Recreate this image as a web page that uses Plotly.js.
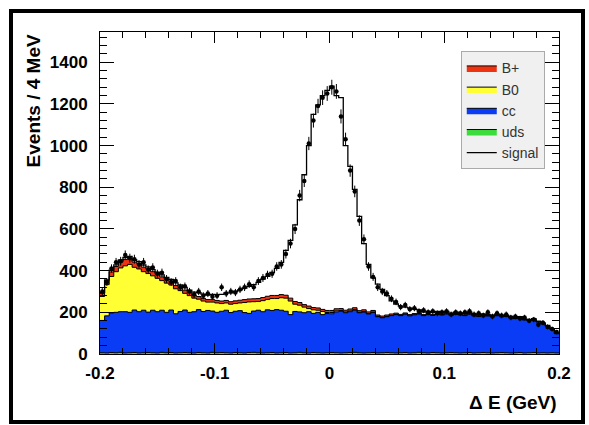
<!DOCTYPE html>
<html>
<head>
<meta charset="utf-8">
<script src="https://cdn.plot.ly/plotly-3.0.1.min.js"></script>
<style>
  html, body { margin: 0; padding: 0; background: #ffffff; }
  #wrap { position: relative; width: 589px; height: 425px; }
  #chart { position: absolute; left: 0; top: 0; width: 589px; height: 425px; }
  #frame { position: absolute; left: 9px; top: 9px; width: 576px; height: 415px;
           border: 4px solid #000; box-sizing: border-box; pointer-events: none; }
</style>
</head>
<body>
<div id="wrap"><div id="chart"></div><div id="frame"></div></div>
<script>
// Histogram binning: 100 bins of 4 MeV from -0.2 to 0.2 GeV
const binLow = -0.2;
const binWidth = 0.004;

// Component counts per bin
const uds = [6,5,7,6,8,5,6,7,5,6, 7,6,5,8,6,7,5,6,7,6, 5,7,6,5,8,6,7,6,5,7,
             6,5,7,8,6,5,6,7,5,6, 7,5,6,8,6,5,7,6,5,6, 7,6,5,6,7,8,6,5,6,7,
             5,6,7,6,5,6,7,5,6,8, 6,5,7,6,5,6,7,6,5,6, 7,5,6,7,6,5,6,7,6,5,
             6,7,5,6,7,5,6,5,6,5];
const cc = [155,178,190,194,195,198,194,204,198,204, 194,204,198,202,194,204,188,198,204,194,
            198,206,198,204,198,194,198,204,194,198, 202,194,188,198,204,198,206,202,208,204,
            198,184,198,194,192,198,188,194,184,188, 186,196,200,192,196,202,192,196,186,192,
            174,168,172,178,184,178,184,178,182,184, 178,184,178,184,182,186,178,184,182,178,
            184,178,174,178,176,174,178,172,174,168, 164,166,158,154,158,148,138,128,112,92];
const b0 = [115,150,175,195,210,220,230,205,205,185, 185,165,160,142,140,120,120,100,80,80,
            65,50,50,40,43,45,37,35,40,37, 37,48,55,45,42,53,50,57,53,60,
            63,65,35,32,27,15,17,10,15,5, 6,5,4,3,4,3,2,3,2,2,
            1,1,1,1,1,0,0,0,0,0, 0,0,0,0,0,0,0,0,0,0,
            0,0,0,0,0,0,0,0,0,0, 0,0,0,0,0,0,0,0,0,0];
const bplus = [15,18,22,25,28,30,28,25,25,22, 22,20,20,18,18,17,16,15,15,14,
               14,13,13,12,12,12,12,12,12,13, 13,14,14,14,14,15,15,15,15,15,
               14,14,13,13,12,12,11,11,10,10, 10,10,9,9,9,9,8,8,8,8,
               7,7,7,7,6,6,6,6,6,5, 5,5,5,5,5,4,4,4,4,4,
               4,4,4,3,3,3,3,3,3,3, 3,3,2,2,2,2,2,2,2,2];
const signal = [5,5,8,8,10,10,10,10,10,10, 10,10,10,10,10,10,12,12,12,12,
                15,18,20,22,25,28,32,36,42,46, 50,55,60,68,78,88,95,110,130,155,
                215,277,368,493,623,770,927,974,1026,1056, 1076,1023,1012,790,684,568,452,318,228,156,
                148,128,93,63,44,40,28,31,21,15, 12,10,10,9,8,8,7,7,6,6,
                6,5,5,5,5,4,4,4,4,4, 3,3,3,3,3,3,3,2,2,2];
// Data points (events per bin)
const data = [300,345,410,440,445,475,460,455,430,440, 405,415,385,390,360,345,350,320,325,300,
              285,300,280,290,275,280,320,290,300,295, 310,320,335,320,350,365,380,385,420,430,
              480,530,600,760,830,1010,1120,1190,1230,1250, 1280,1260,1140,1030,880,780,640,550,420,370,
              320,300,290,265,250,225,235,215,220,205, 210,200,205,195,200,205,190,200,195,200,
              205,190,195,185,200,180,195,185,190,175, 180,170,175,160,165,140,150,130,120,105];

const names = ['B+', 'B0', 'cc', 'uds', 'signal'];
const colors = {uds: '#3ddc3d', cc: '#0a3cf5', b0: '#ffff33', bplus: '#ee3311'};
const xTickVals = [-0.2, -0.1, 0, 0.1, 0.2];
const xTickText = ['-0.2', '-0.1', '0', '0.1', '0.2'];
const yTickVals = [0, 200, 400, 600, 800, 1000, 1200, 1400];

// Build step representations
const n = uds.length;
const edges = [];
for (let i = 0; i <= n; i++) edges.push(+(binLow + i * binWidth).toFixed(4));
const centers = [];
for (let i = 0; i < n; i++) centers.push(binLow + (i + 0.5) * binWidth);
function stepY(arr) { return arr.concat([arr[arr.length - 1]]); }
const c1 = uds.slice();
const c2 = c1.map((v, i) => v + cc[i]);
const c3 = c2.map((v, i) => v + b0[i]);
const c4 = c3.map((v, i) => v + bplus[i]);
const c5 = c4.map((v, i) => v + signal[i]);

function areaTrace(name, y, color) {
  return {type: 'scatter', mode: 'lines', name: name, x: edges, y: stepY(y),
          line: {shape: 'hv', color: '#000', width: 1}, fill: 'tozeroy', fillcolor: color,
          hoverinfo: 'skip'};
}
const traces = [
  areaTrace(names[0], c4, colors.bplus),
  areaTrace(names[1], c3, colors.b0),
  areaTrace(names[2], c2, colors.cc),
  areaTrace(names[3], c1, colors.uds),
  {type: 'scatter', mode: 'lines', name: names[4], x: edges, y: stepY(c5),
   line: {shape: 'hv', color: '#000', width: 1.3}},
  {type: 'scatter', mode: 'markers', name: 'data', showlegend: false, x: centers, y: data,
   marker: {color: '#000', size: 4.5},
   error_y: {type: 'data', array: data.map(v => Math.sqrt(v)), color: '#000', thickness: 1, width: 0}}
];

const font = {family: '"Liberation Sans", Arial, sans-serif', color: '#000'};
const layout = {
  width: 589, height: 425,
  margin: {l: 100, r: 30, t: 32, b: 71},
  paper_bgcolor: '#fff', plot_bgcolor: '#fff',
  showlegend: true,
  legend: {x: 0.786, y: 0.94, xanchor: 'left', yanchor: 'top',
           bgcolor: '#f0f0f0', bordercolor: '#aaaaaa', borderwidth: 1,
           font: {family: font.family, size: 14, color: '#333'},
           itemwidth: 30, tracegroupgap: 0},
  xaxis: {range: [-0.2, 0.2], tickmode: 'array', tickvals: xTickVals, ticktext: xTickText,
          ticks: 'inside', ticklen: 11, tickcolor: '#000', mirror: 'ticks',
          showline: true, linecolor: '#000', linewidth: 1, showgrid: false, zeroline: false,
          ticklabelstandoff: 4,
          minor: {dtick: 0.02, ticks: 'inside', ticklen: 6, tickcolor: '#000', showgrid: false},
          tickfont: {family: font.family, size: 17, weight: 700, color: '#000'}},
  yaxis: {range: [0, 1545], tickmode: 'array', tickvals: yTickVals,
          ticks: 'inside', ticklen: 14, tickcolor: '#000', mirror: 'ticks',
          showline: true, linecolor: '#000', linewidth: 1, showgrid: false, zeroline: false,
          ticklabelstandoff: 8,
          minor: {dtick: 40, ticks: 'inside', ticklen: 7, tickcolor: '#000', showgrid: false},
          tickfont: {family: font.family, size: 17, weight: 700, color: '#000'}},
  annotations: [
    {text: 'Events / 4 MeV', xref: 'paper', yref: 'paper', x: -0.144, y: 1.0,
     xanchor: 'center', yanchor: 'top', textangle: -90, showarrow: false,
     font: {family: font.family, size: 19, weight: 700, color: '#000'}},
    {text: 'Δ E (GeV)', xref: 'paper', yref: 'paper', x: 1.0, y: -0.152,
     xanchor: 'right', yanchor: 'middle', showarrow: false,
     font: {family: font.family, size: 19, weight: 700, color: '#000'}}
  ]
};
Plotly.newPlot('chart', traces, layout, {staticPlot: true, displayModeBar: false});
</script>
</body>
</html>
